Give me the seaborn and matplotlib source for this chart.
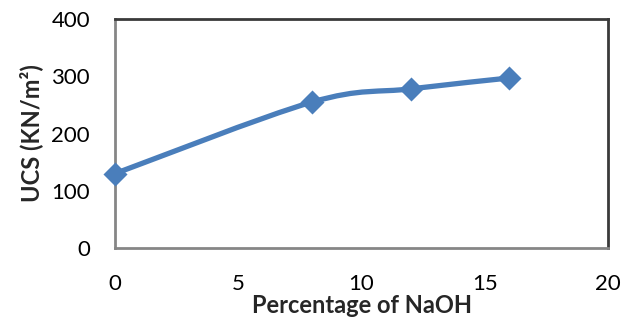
import numpy as np
import matplotlib
matplotlib.use("Agg")
import matplotlib.pyplot as plt
from matplotlib.path import Path
from matplotlib.patches import PathPatch
import seaborn as sns
import pandas as pd

naoh_pct = [0, 8, 12, 16]
ucs = [130, 255, 278, 297]
x_ticks = [0, 5, 10, 15, 20]
y_ticks = [0, 100, 200, 300, 400]

sns.set_theme(style="white")
plt.rcParams['font.family'] = ['Lato', 'DejaVu Sans']

df = pd.DataFrame({"NaOH": naoh_pct, "UCS": ucs})

fig = plt.figure(figsize=(6.24, 3.24), dpi=100)
ax = fig.add_axes([115/624, 1 - 248/324, (608-115)/624, (248-19)/324])

color = "#4A7EBB"

# Excel-like smoothed line (cubic Bezier through data points)
xs = np.array(df["NaOH"], dtype=float)
ys = np.array(df["UCS"], dtype=float)
n = len(xs)
verts = [(xs[0], ys[0])]
codes = [Path.MOVETO]
t = 1/6
for i in range(n - 1):
    p0 = np.array([xs[max(i-1, 0)], ys[max(i-1, 0)]])
    p1 = np.array([xs[i], ys[i]])
    p2 = np.array([xs[i+1], ys[i+1]])
    p3 = np.array([xs[min(i+2, n-1)], ys[min(i+2, n-1)]])
    c1 = p1 + (p2 - p0) * t
    c2 = p2 - (p3 - p1) * t
    verts += [tuple(c1), tuple(c2), tuple(p2)]
    codes += [Path.CURVE4] * 3
ax.add_patch(PathPatch(Path(verts, codes), fill=False, edgecolor=color,
                       lw=3.8, capstyle='round', joinstyle='round', zorder=2))

sns.scatterplot(data=df, x="NaOH", y="UCS", ax=ax, marker="D", s=150,
                color=color, edgecolor=color, linewidth=0, zorder=3, clip_on=False)

ax.set_xlim(0, 20)
ax.set_ylim(0, 400)
ax.set_xticks(x_ticks)
ax.set_yticks(y_ticks)
ax.set_xticklabels([str(v) for v in x_ticks])
ax.set_yticklabels([str(v) for v in y_ticks])
ax.tick_params(axis='both', labelsize=16, length=0, colors="#000000")
ax.tick_params(axis='x', pad=19)
ax.tick_params(axis='y', pad=18)

for side in ['left', 'bottom']:
    ax.spines[side].set_color("#868686")
    ax.spines[side].set_linewidth(2)
for side in ['top', 'right']:
    ax.spines[side].set_color("#3a3a3a")
    ax.spines[side].set_linewidth(2)

ax.set_xlabel("Percentage of NaOH", fontsize=17, fontweight='bold', labelpad=0)
ax.set_ylabel("UCS (KN/m²)", fontsize=17, fontweight='bold', labelpad=6)

fig.savefig("out.png", dpi=100)
